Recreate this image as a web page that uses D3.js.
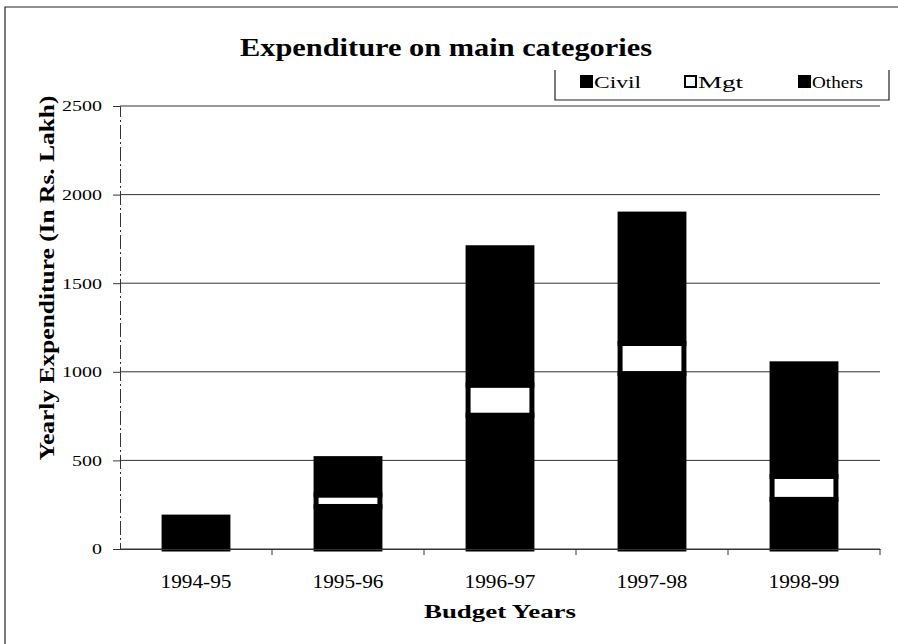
<!DOCTYPE html>
<html>
<head>
<meta charset="utf-8">
<script src="https://cdn.jsdelivr.net/npm/d3@7"></script>
<style>
  body { margin: 0; background: #fff; }
  text { font-family: "Liberation Serif", "Times New Roman", Times, serif; fill: #000; }
</style>
</head>
<body>
<svg id="chart" width="898" height="644"></svg>
<script>
const years = ["1994-95", "1995-96", "1996-97", "1997-98", "1998-99"];
const civil = [180, 240, 755, 990, 280];
const mgt = [0, 65, 170, 170, 130];
const others = [0, 205, 775, 730, 635];
const seriesNames = ["Civil", "Mgt", "Others"];
const seriesFill = ["#000", "#fff", "#000"];
const yTicks = [0, 500, 1000, 1500, 2000, 2500];

const svg = d3.select("#chart");
const margin = { left: 120, right: 18, top: 106, bottom: 95 };
const width = 898, height = 644;
const serif = "'Liberation Serif', 'Times New Roman', Times, serif";

// fit text to the width it has in the scan
function fit(sel, widthFn) {
  sel.attr("textLength", widthFn).attr("lengthAdjust", "spacingAndGlyphs");
}

// frame (page border)
svg.append("path")
  .attr("d", "M5,644 L5,7 L898,7")
  .attr("fill", "none")
  .attr("stroke", "#222")
  .attr("stroke-width", 1.2);

const x = d3.scaleBand()
  .domain(years)
  .range([margin.left, width - margin.right])
  .paddingInner(0.58)
  .paddingOuter(0.29);

const y = d3.scaleLinear()
  .domain([0, 2500])
  .range([height - margin.bottom, margin.top]);

// gridlines
svg.append("g")
  .selectAll("line")
  .data(yTicks)
  .join("line")
  .attr("x1", margin.left)
  .attr("x2", width - margin.right)
  .attr("y1", d => y(d))
  .attr("y2", d => y(d))
  .attr("stroke", "#333")
  .attr("stroke-width", 1);

// stacked bars
const table = years.map((yr, i) => ({ year: yr, Civil: civil[i], Mgt: mgt[i], Others: others[i] }));
const stack = d3.stack().keys(seriesNames)(table);

svg.append("g")
  .selectAll("g")
  .data(stack)
  .join("g")
  .attr("fill", (d, i) => seriesFill[i])
  .selectAll("rect")
  .data(d => d.filter(p => p[1] > p[0]))
  .join("rect")
  .attr("x", d => x(d.data.year))
  .attr("width", x.bandwidth())
  .attr("y", d => y(d[1]))
  .attr("height", d => y(d[0]) - y(d[1]))
  .attr("stroke", "#000")
  .attr("stroke-width", 5);

// y axis
const yAxis = svg.append("g")
  .attr("transform", `translate(${margin.left},0)`)
  .call(d3.axisLeft(y).tickValues(yTicks).tickFormat(d3.format("d")).tickSize(7).tickPadding(11))
  .attr("font-family", serif)
  .attr("font-size", 15);
yAxis.select(".domain").attr("stroke", "#333").attr("stroke-dasharray", "14,3,2,3");
yAxis.selectAll(".tick line").attr("stroke", "#333");
yAxis.selectAll("text").attr("fill", "#222").call(fit, d => String(d).length * 10);

// x axis
const xAxis = svg.append("g")
  .attr("transform", `translate(0,${y(0)})`)
  .call(d3.axisBottom(x).tickSize(0).tickPadding(26))
  .attr("font-family", serif)
  .attr("font-size", 18);
xAxis.select(".domain").attr("stroke", "#333");
xAxis.selectAll("text").attr("fill", "#111").call(fit, 71);

// category separator ticks
svg.append("g")
  .selectAll("line")
  .data(years)
  .join("line")
  .attr("x1", d => x(d) + x.bandwidth() + x.step() * 0.29)
  .attr("x2", d => x(d) + x.bandwidth() + x.step() * 0.29)
  .attr("y1", y(0))
  .attr("y2", y(0) + 6)
  .attr("stroke", "#333");

// titles
svg.append("text")
  .attr("x", 446)
  .attr("y", 56)
  .attr("text-anchor", "middle")
  .attr("font-size", "25px")
  .attr("font-weight", "bold")
  .text("Expenditure on main categories")
  .call(fit, 412);

svg.append("text")
  .attr("transform", `translate(54,278) rotate(-90)`)
  .attr("text-anchor", "middle")
  .attr("font-size", "20px")
  .attr("font-weight", "bold")
  .text("Yearly Expenditure (In Rs. Lakh)")
  .call(fit, 365);

svg.append("text")
  .attr("x", 500)
  .attr("y", 618)
  .attr("text-anchor", "middle")
  .attr("font-size", "19px")
  .attr("font-weight", "bold")
  .text("Budget Years")
  .call(fit, 152);

// legend
svg.append("path")
  .attr("d", "M555,70 L555,100 L889,100 L889,70")
  .attr("fill", "none")
  .attr("stroke", "#222")
  .attr("stroke-width", 1.2);

const legendX = [580, 684, 798];
const legendW = [47, 45, 51];
const legend = svg.append("g")
  .selectAll("g")
  .data(seriesNames)
  .join("g")
  .attr("transform", (d, i) => `translate(${legendX[i]},75)`);
legend.append("rect")
  .attr("x", 1)
  .attr("y", 1)
  .attr("width", 11)
  .attr("height", 11)
  .attr("fill", (d, i) => seriesFill[i])
  .attr("stroke", "#000")
  .attr("stroke-width", 2);
legend.append("text")
  .attr("x", 14)
  .attr("y", 13)
  .attr("font-size", "16px")
  .text(d => d)
  .call(fit, (d, i) => legendW[i]);
</script>
</body>
</html>
